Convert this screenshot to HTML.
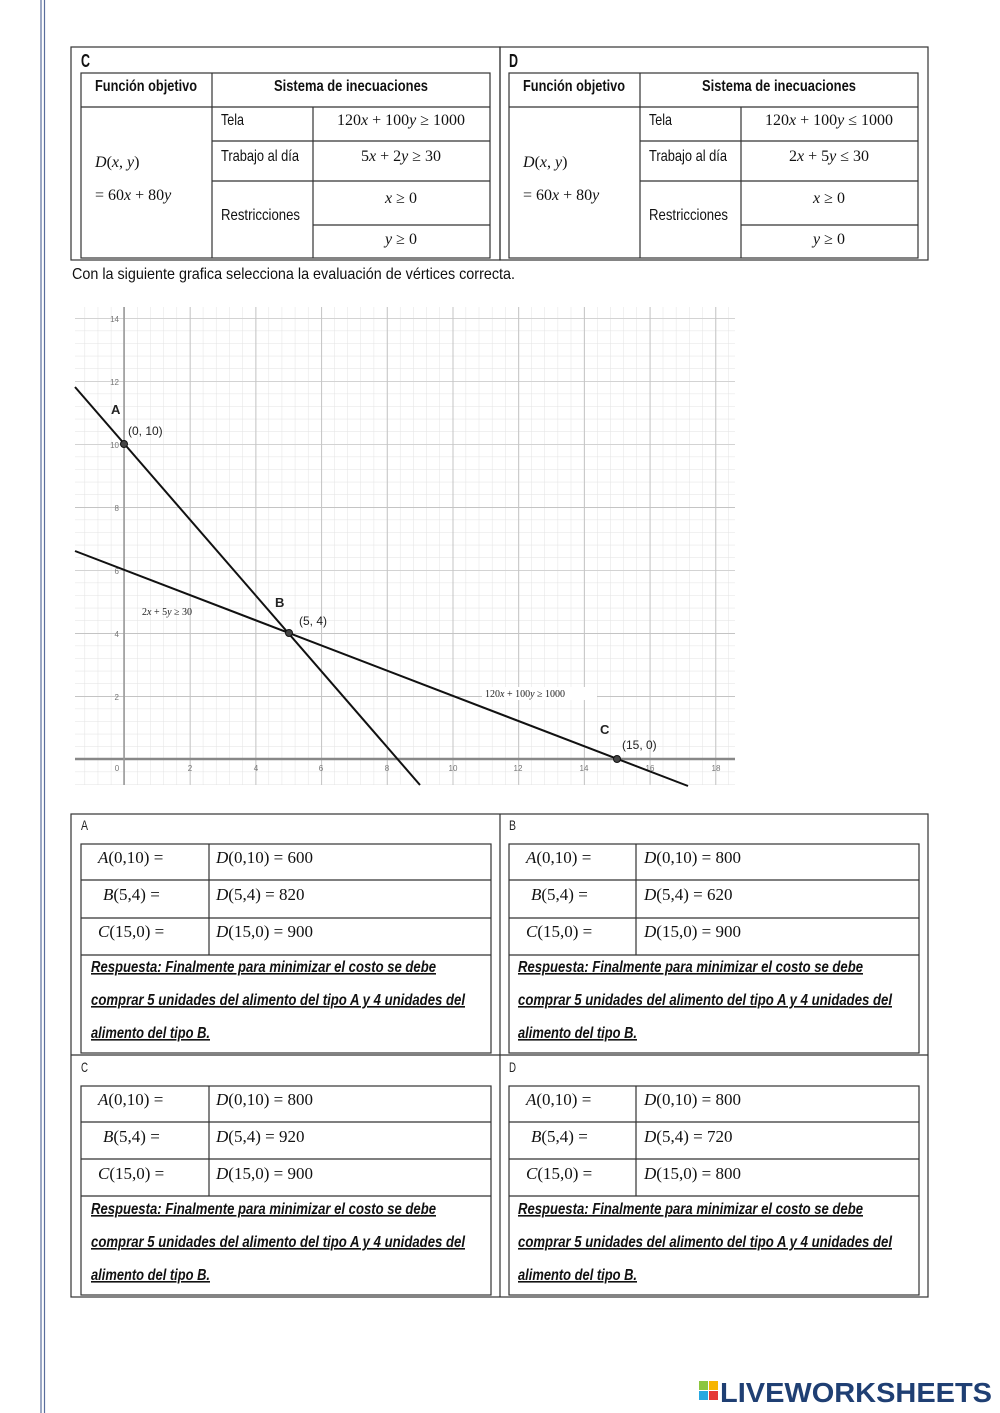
<!DOCTYPE html>
<html><head><meta charset="utf-8"><style>
html,body{margin:0;padding:0;background:#fff}
svg{display:block}
.n{font-family:"Liberation Sans Narrow","Liberation Sans",sans-serif}
.m{font-family:"Liberation Serif",serif;font-style:italic}
.r{font-family:"Liberation Serif",serif}
</style></head><body>
<svg width="1000" height="1413" viewBox="0 0 1000 1413" xmlns="http://www.w3.org/2000/svg">
<defs>
<pattern id="mn" x="124" y="759" width="13.14" height="12.6" patternUnits="userSpaceOnUse">
<path d="M0 0V12.6M0 0H13.14" stroke="#e2e2e2" stroke-width="1" fill="none"/></pattern>
<pattern id="mj" x="124" y="759" width="65.7" height="63" patternUnits="userSpaceOnUse">
<path d="M0 0V63M0 0H65.7" stroke="#c4c4c4" stroke-width="2" fill="none"/></pattern>
</defs>
<line x1="41" y1="0" x2="41" y2="1413" stroke="#5a6e9c" stroke-width="1.2"/>
<line x1="44.5" y1="0" x2="44.5" y2="1413" stroke="#5a6e9c" stroke-width="1.2"/>

<g fill="none" stroke="#333" stroke-width="1.2">
<rect x="71" y="47" width="429" height="213"/>
<rect x="500" y="47" width="428" height="213"/>
<rect x="81" y="73" width="409" height="185"/>
<path d="M81 107H490M212 73V258M313 107V258M212 141H490M212 181H490M313 225H490"/>
<rect x="509" y="73" width="409" height="185"/>
<path d="M509 107H918M640 73V258M741 107V258M640 141H918M640 181H918M741 225H918"/>
</g>
<g class="n" font-size="16" fill="#111" lengthAdjust="spacingAndGlyphs">
<text x="81" y="67" font-weight="bold" font-size="18" textLength="9" lengthAdjust="spacingAndGlyphs">C</text>
<text x="509" y="67" font-weight="bold" font-size="18" textLength="9" lengthAdjust="spacingAndGlyphs">D</text>
<text x="95" y="91" font-weight="bold" textLength="102" lengthAdjust="spacingAndGlyphs">Función objetivo</text>
<text x="274" y="91" font-weight="bold" textLength="154" lengthAdjust="spacingAndGlyphs">Sistema de inecuaciones</text>
<text x="523" y="91" font-weight="bold" textLength="102" lengthAdjust="spacingAndGlyphs">Función objetivo</text>
<text x="702" y="91" font-weight="bold" textLength="154" lengthAdjust="spacingAndGlyphs">Sistema de inecuaciones</text>
<text x="221" y="125" textLength="23" lengthAdjust="spacingAndGlyphs">Tela</text><text x="221" y="161" textLength="78" lengthAdjust="spacingAndGlyphs">Trabajo al día</text><text x="221" y="220" textLength="79" lengthAdjust="spacingAndGlyphs">Restricciones</text>
<text x="649" y="125" textLength="23" lengthAdjust="spacingAndGlyphs">Tela</text><text x="649" y="161" textLength="78" lengthAdjust="spacingAndGlyphs">Trabajo al día</text><text x="649" y="220" textLength="79" lengthAdjust="spacingAndGlyphs">Restricciones</text>
<text x="72" y="279" font-size="16" textLength="443" lengthAdjust="spacingAndGlyphs">Con la siguiente grafica selecciona la evaluación de vértices correcta.</text>
</g>
<g font-size="16" fill="#111" class="r">
<text x="401" y="125" text-anchor="middle">120<tspan class="m">x</tspan> + 100<tspan class="m">y</tspan> ≥ 1000</text>
<text x="401" y="161" text-anchor="middle">5<tspan class="m">x</tspan> + 2<tspan class="m">y</tspan> ≥ 30</text>
<text x="401" y="203" text-anchor="middle"><tspan class="m">x</tspan> ≥ 0</text>
<text x="401" y="244" text-anchor="middle"><tspan class="m">y</tspan> ≥ 0</text>
<text x="95" y="167"><tspan class="m">D</tspan>(<tspan class="m">x</tspan>, <tspan class="m">y</tspan>)</text>
<text x="95" y="200">= 60<tspan class="m">x</tspan> + 80<tspan class="m">y</tspan></text>
<text x="829" y="125" text-anchor="middle">120<tspan class="m">x</tspan> + 100<tspan class="m">y</tspan> ≤ 1000</text>
<text x="829" y="161" text-anchor="middle">2<tspan class="m">x</tspan> + 5<tspan class="m">y</tspan> ≤ 30</text>
<text x="829" y="203" text-anchor="middle"><tspan class="m">x</tspan> ≥ 0</text>
<text x="829" y="244" text-anchor="middle"><tspan class="m">y</tspan> ≥ 0</text>
<text x="523" y="167"><tspan class="m">D</tspan>(<tspan class="m">x</tspan>, <tspan class="m">y</tspan>)</text>
<text x="523" y="200">= 60<tspan class="m">x</tspan> + 80<tspan class="m">y</tspan></text>
</g>

<rect x="75" y="307" width="660" height="478" fill="url(#mn)"/>
<rect x="75" y="307" width="660" height="478" fill="url(#mj)"/>
<line x1="75" y1="759" x2="735" y2="759" stroke="#888" stroke-width="2.5"/>
<line x1="124" y1="307" x2="124" y2="785" stroke="#999" stroke-width="1.5"/>
<g font-family="Liberation Sans,sans-serif" font-size="8" fill="#777">
<text x="119" y="322" text-anchor="end">14</text><text x="119" y="385" text-anchor="end">12</text>
<text x="119" y="448" text-anchor="end">10</text><text x="119" y="511" text-anchor="end">8</text>
<text x="119" y="574" text-anchor="end">6</text><text x="119" y="637" text-anchor="end">4</text>
<text x="119" y="700" text-anchor="end">2</text>
<text x="117" y="771" text-anchor="middle">0</text><text x="190" y="771" text-anchor="middle">2</text>
<text x="256" y="771" text-anchor="middle">4</text><text x="321" y="771" text-anchor="middle">6</text>
<text x="387" y="771" text-anchor="middle">8</text><text x="453" y="771" text-anchor="middle">10</text>
<text x="518" y="771" text-anchor="middle">12</text><text x="584" y="771" text-anchor="middle">14</text>
<text x="650" y="771" text-anchor="middle">16</text><text x="716" y="771" text-anchor="middle">18</text>
</g>
<g stroke="#111" stroke-width="2">
<line x1="75" y1="387" x2="420" y2="785"/>
<line x1="75" y1="551" x2="688" y2="786"/>
</g>
<g fill="#444" stroke="#111" stroke-width="1"><circle cx="124" cy="444" r="3.5"/><circle cx="289" cy="633" r="3.5"/><circle cx="617" cy="759" r="3.5"/></g>
<g font-family="Liberation Sans,sans-serif" fill="#222">
<text x="111" y="414" font-size="13" font-weight="bold">A</text>
<text x="275" y="607" font-size="13" font-weight="bold">B</text>
<text x="600" y="734" font-size="13" font-weight="bold">C</text>
<text x="128" y="435" font-size="12">(0, 10)</text>
<text x="299" y="625" font-size="12">(5, 4)</text>
<text x="622" y="749" font-size="12">(15, 0)</text>
</g>
<rect x="482" y="687" width="115" height="13" fill="#fff"/>
<g class="r" font-size="10" fill="#222">
<text x="142" y="615">2<tspan class="m">x</tspan> + 5<tspan class="m">y</tspan> ≥ 30</text>
<text x="485" y="697">120<tspan class="m">x</tspan> + 100<tspan class="m">y</tspan> ≥ 1000</text>
</g>

<g fill="none" stroke="#333" stroke-width="1.2">
<rect x="71" y="814" width="857" height="483"/>
<path d="M500 814V1297M71 1055H928"/>
<rect x="81" y="844" width="410" height="209"/><path d="M81 880H491M81 918H491M81 955H491M209 844V955"/>
<rect x="509" y="844" width="410" height="209"/><path d="M509 880H919M509 918H919M509 955H919M636 844V955"/>
<rect x="81" y="1086" width="410" height="209"/><path d="M81 1122H491M81 1159H491M81 1196H491M209 1086V1196"/>
<rect x="509" y="1086" width="410" height="209"/><path d="M509 1122H919M509 1159H919M509 1196H919M636 1086V1196"/>
</g>
<g class="n" font-size="14" fill="#222">
<text x="81" y="830" textLength="7" lengthAdjust="spacingAndGlyphs">A</text><text x="509" y="830" textLength="7" lengthAdjust="spacingAndGlyphs">B</text>
<text x="81" y="1072" textLength="7" lengthAdjust="spacingAndGlyphs">C</text><text x="509" y="1072" textLength="7" lengthAdjust="spacingAndGlyphs">D</text>
</g>
<g class="r" font-size="17" fill="#111">
<text x="98" y="863"><tspan class="m">A</tspan>(0,10) =</text><text x="216" y="863"><tspan class="m">D</tspan>(0,10) =  600</text>
<text x="103" y="900"><tspan class="m">B</tspan>(5,4) =</text><text x="216" y="900"><tspan class="m">D</tspan>(5,4) = 820</text>
<text x="98" y="937"><tspan class="m">C</tspan>(15,0) =</text><text x="216" y="937"><tspan class="m">D</tspan>(15,0) = 900</text>
<text x="526" y="863"><tspan class="m">A</tspan>(0,10) =</text><text x="644" y="863"><tspan class="m">D</tspan>(0,10) =  800</text>
<text x="531" y="900"><tspan class="m">B</tspan>(5,4) =</text><text x="644" y="900"><tspan class="m">D</tspan>(5,4) = 620</text>
<text x="526" y="937"><tspan class="m">C</tspan>(15,0) =</text><text x="644" y="937"><tspan class="m">D</tspan>(15,0) = 900</text>
<text x="98" y="1105"><tspan class="m">A</tspan>(0,10) =</text><text x="216" y="1105"><tspan class="m">D</tspan>(0,10) =  800</text>
<text x="103" y="1142"><tspan class="m">B</tspan>(5,4) =</text><text x="216" y="1142"><tspan class="m">D</tspan>(5,4) = 920</text>
<text x="98" y="1179"><tspan class="m">C</tspan>(15,0) =</text><text x="216" y="1179"><tspan class="m">D</tspan>(15,0) = 900</text>
<text x="526" y="1105"><tspan class="m">A</tspan>(0,10) =</text><text x="644" y="1105"><tspan class="m">D</tspan>(0,10) =  800</text>
<text x="531" y="1142"><tspan class="m">B</tspan>(5,4) =</text><text x="644" y="1142"><tspan class="m">D</tspan>(5,4) = 720</text>
<text x="526" y="1179"><tspan class="m">C</tspan>(15,0) =</text><text x="644" y="1179"><tspan class="m">D</tspan>(15,0) = 800</text>
</g>
<g class="n" font-size="16" font-weight="bold" font-style="italic" fill="#111" text-decoration="underline">
<text x="91" y="972" textLength="345" lengthAdjust="spacingAndGlyphs">Respuesta: Finalmente para minimizar el costo se debe</text>
<text x="91" y="1005" textLength="374" lengthAdjust="spacingAndGlyphs">comprar 5 unidades del alimento del tipo A y 4 unidades del</text>
<text x="91" y="1038" textLength="119" lengthAdjust="spacingAndGlyphs">alimento del tipo B.</text>
<text x="518" y="972" textLength="345" lengthAdjust="spacingAndGlyphs">Respuesta: Finalmente para minimizar el costo se debe</text>
<text x="518" y="1005" textLength="374" lengthAdjust="spacingAndGlyphs">comprar 5 unidades del alimento del tipo A y 4 unidades del</text>
<text x="518" y="1038" textLength="119" lengthAdjust="spacingAndGlyphs">alimento del tipo B.</text>
<text x="91" y="1214" textLength="345" lengthAdjust="spacingAndGlyphs">Respuesta: Finalmente para minimizar el costo se debe</text>
<text x="91" y="1247" textLength="374" lengthAdjust="spacingAndGlyphs">comprar 5 unidades del alimento del tipo A y 4 unidades del</text>
<text x="91" y="1280" textLength="119" lengthAdjust="spacingAndGlyphs">alimento del tipo B.</text>
<text x="518" y="1214" textLength="345" lengthAdjust="spacingAndGlyphs">Respuesta: Finalmente para minimizar el costo se debe</text>
<text x="518" y="1247" textLength="374" lengthAdjust="spacingAndGlyphs">comprar 5 unidades del alimento del tipo A y 4 unidades del</text>
<text x="518" y="1280" textLength="119" lengthAdjust="spacingAndGlyphs">alimento del tipo B.</text>
</g>

<rect x="699" y="1381" width="9" height="9" fill="#8cc63f"/><rect x="709" y="1381" width="9" height="9" fill="#f7b500"/>
<rect x="699" y="1391" width="9" height="9" fill="#29a8e0"/><rect x="709" y="1391" width="9" height="9" fill="#e53935"/>
<text x="720" y="1402" font-family="Liberation Sans,sans-serif" font-weight="bold" font-size="28" fill="#1f3f73" textLength="272" lengthAdjust="spacingAndGlyphs">LIVEWORKSHEETS</text>
</svg>
</body></html>
